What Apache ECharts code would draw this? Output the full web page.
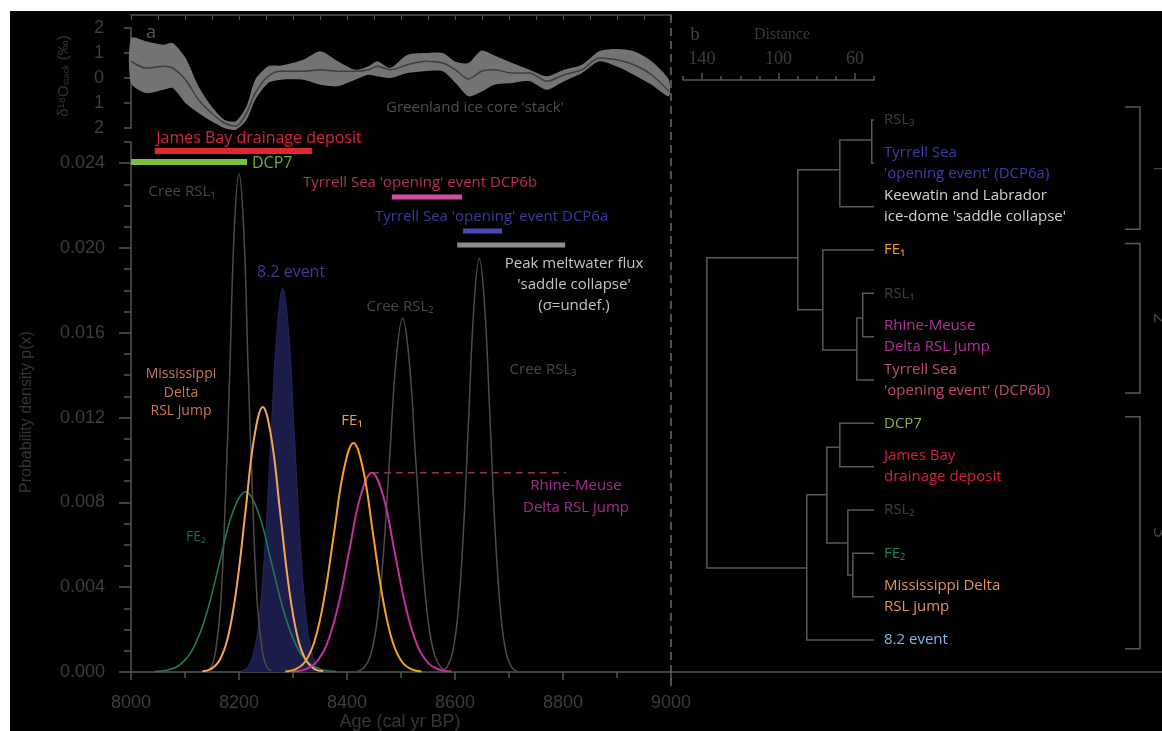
<!DOCTYPE html>
<html>
<head>
<meta charset="utf-8">
<title>Cluster analysis of 8.2 ka event ages</title>
<script src="https://cdn.jsdelivr.net/npm/echarts@6/dist/echarts.min.js"></script>
<style>
  html, body { margin: 0; padding: 0; background: #fff; }
  #chart { width: 1162px; height: 731px; }
</style>
</head>
<body>
<div id="chart"></div>
<script>
"use strict";
/** ---- data ---- **/
// Greenland ice-core stack (d18O anomaly, permil)
var iceAge = [8000, 8028, 8060, 8077, 8101, 8125, 8149, 8173, 8194, 8214, 8230, 8254, 8278, 8319, 8351, 8383, 8415, 8440, 8456, 8480, 8512, 8544, 8577, 8601, 8625, 8649, 8673, 8706, 8738, 8770, 8802, 8835, 8867, 8899, 8931, 8964, 8996];
var iceMean = [0.67, 0.4, 0.47, 0.4, -0.07, -0.87, -1.4, -1.8, -1.93, -1.4, -0.6, 0.07, 0.27, 0.27, 0.33, 0.27, 0.27, 0.33, 0.47, 0.33, 0.53, 0.67, 0.6, 0.33, -0.04, 0.27, 0.33, 0.2, 0.2, -0.13, 0.13, 0.33, 0.8, 0.73, 0.53, 0.13, -0.53];
var iceUpper = [1.6, 1.47, 1.33, 1.4, 0.8, -0.33, -1.13, -1.67, -1.73, -1.13, -0.07, 0.47, 0.5, 0.73, 1.07, 0.67, 0.33, 0.47, 0.67, 0.4, 0.93, 1.0, 1.0, 0.65, 0.6, 1.1, 0.9, 0.6, 0.33, 0.07, 0.33, 0.53, 1.07, 1.16, 1.07, 0.67, -0.07];
var iceLower = [-0.2, -0.6, -0.47, -0.4, -1.0, -1.4, -1.73, -2.0, -2.07, -1.67, -0.87, -0.2, -0.07, -0.07, -0.27, -0.33, -0.07, 0.13, 0.07, 0.0, 0.2, 0.27, 0.27, -0.2, -0.73, -0.55, -0.27, -0.2, -0.13, -0.47, -0.13, 0.2, 0.67, 0.47, 0.13, -0.27, -0.73];

// probability density curves (age cal yr BP, p(x))
var creeRsl1Age = [8140, 8149, 8157, 8166, 8174, 8183, 8191, 8200, 8209, 8217, 8226, 8234, 8243, 8251, 8260];
var creeRsl1P = [0.00005, 0.00026, 0.00103, 0.00318, 0.00763, 0.01425, 0.02074, 0.0235, 0.02074, 0.01425, 0.00763, 0.00318, 0.00103, 0.00026, 0.00005];
var event82Age = [8204, 8215, 8226, 8237, 8248, 8259, 8270, 8281, 8292, 8303, 8314, 8325, 8336, 8347, 8358];
var event82P = [0.00004, 0.0002, 0.0008, 0.00245, 0.00588, 0.01098, 0.01597, 0.0181, 0.01597, 0.01098, 0.00588, 0.00245, 0.0008, 0.0002, 0.00004];
var missAge = [8132, 8148, 8164, 8180, 8196, 8212, 8228, 8244, 8260, 8276, 8292, 8308, 8324, 8340, 8356];
var missP = [0.00003, 0.00014, 0.00055, 0.00169, 0.00406, 0.00758, 0.01103, 0.0125, 0.01103, 0.00758, 0.00406, 0.00169, 0.00055, 0.00014, 0.00003];
var fe2Age = [8044, 8068, 8092, 8116, 8140, 8164, 8188, 8212, 8236, 8260, 8284, 8308, 8332, 8356, 8380];
var fe2P = [0.00002, 0.00009, 0.00037, 0.00115, 0.00276, 0.00516, 0.0075, 0.0085, 0.0075, 0.00516, 0.00276, 0.00115, 0.00037, 0.00009, 0.00002];
var fe1Age = [8286, 8304, 8322, 8340, 8358, 8376, 8394, 8412, 8430, 8448, 8466, 8484, 8502, 8520, 8538];
var fe1P = [0.00002, 0.00012, 0.00047, 0.00146, 0.00351, 0.00655, 0.00953, 0.0108, 0.00953, 0.00655, 0.00351, 0.00146, 0.00047, 0.00012, 0.00002];
var rhineAge = [8299, 8320, 8341, 8362, 8383, 8404, 8425, 8446, 8467, 8488, 8509, 8530, 8551, 8572, 8593];
var rhineP = [0.00002, 0.0001, 0.00041, 0.00127, 0.00305, 0.0057, 0.0083, 0.0094, 0.0083, 0.0057, 0.00305, 0.00127, 0.00041, 0.0001, 0.00002];
var creeRsl2Age = [8419, 8431, 8443, 8455, 8467, 8479, 8491, 8503, 8515, 8527, 8539, 8551, 8563, 8575, 8587];
var creeRsl2P = [0.00004, 0.00019, 0.00073, 0.00226, 0.00542, 0.01013, 0.01474, 0.0167, 0.01474, 0.01013, 0.00542, 0.00226, 0.00073, 0.00019, 0.00004];
var creeRsl3Age = [8575, 8585, 8595, 8605, 8615, 8625, 8635, 8645, 8655, 8665, 8675, 8685, 8695, 8705, 8715];
var creeRsl3P = [0.00004, 0.00022, 0.00086, 0.00264, 0.00633, 0.01183, 0.01721, 0.0195, 0.01721, 0.01183, 0.00633, 0.00264, 0.00086, 0.00022, 0.00004];
var rhineLevelEnd = 8805;

// dated age ranges (bars)
var rangeNames = ["James Bay drainage deposit", "DCP7", "DCP6b", "DCP6a", "Peak meltwater flux"];
var rangeStart = [8044, 8000, 8483, 8615, 8604];
var rangeEnd = [8335, 8215, 8613, 8687, 8804];

// tick values
var ageTicks = [8000, 8200, 8400, 8600, 8800, 9000];
var densityTicks = [0, 0.004, 0.008, 0.012, 0.016, 0.02, 0.024];
var densityMinorTicks = [0.001, 0.002, 0.003, 0.005, 0.006, 0.007, 0.009, 0.01, 0.011, 0.013, 0.014, 0.015, 0.017, 0.018, 0.019, 0.021, 0.022, 0.023, 0.025];
var distanceTicks = [60, 100, 140];
var distanceMinorTicks = [50, 70, 80, 90, 110, 120, 130, 150];

// dendrogram (panel b)
var leafNames = ["RSL\u2083", "Tyrrell Sea\n'opening event' (DCP6a)", "Keewatin and Labrador\nice-dome 'saddle collapse'",
  "FE\u2081", "RSL\u2081", "Rhine-Meuse\nDelta RSL jump", "Tyrrell Sea\n'opening event' (DCP6b)", "DCP7",
  "James Bay\ndrainage deposit", "RSL\u2082", "FE\u2082", "Mississippi Delta\nRSL jump", "8.2 event"];
var leafDist = 50;
var nodeLeft = [0, 13, 4, 15, 3, 14, 7, 10, 9, 19, 22, 18];
var nodeRight = [1, 2, 5, 6, 16, 17, 8, 11, 20, 21, 12, 23];
var nodeDist = [51.2, 67.9, 55.9, 59.0, 76.8, 89.9, 67.9, 61.1, 63.7, 74.7, 85.2, 137.5];
var nodeRow = [0.46, 1.15, 4.57, 5.31, 4.38, 3.18, 7.55, 10.5, 9.76, 8.65, 10.34, 6.0];
var clusterLabels = ["1", "2", "3"];
var clusterFrom = [-0.3, 2.85, 6.85];
var clusterTo = [2.52, 6.3, 12.2];

/** ---- styles / layout ---- **/
var axisGray = "#555";
var labelGray = "#3c3c3c";
var tickFont = "'Liberation Sans', Arial, sans-serif";
var textFont = "'Open Sans', 'DejaVu Sans', sans-serif";
var serifFont = "'Liberation Serif', 'DejaVu Serif', serif";
var rangeRow = [0.02458, 0.02406, 0.0224, 0.0208, 0.02014];
var rangeColor = ["#e0282f", "#7cc040", "#d24ea2", "#4a4ab4", "#8e8e8e"];
var leafColors = ["#3e3e3e", "#3c3cae", "#d2d2d2", "#f0a030", "#3e3e3e", "#b3309a", "#c24a7c",
  "#82b242", "#d6203e", "#3e3e3e", "#1f8352", "#e4925e", "#8cb2ea"];

function zip(a, b) {
  return a.map(function (v, i) { return [v, b[i]]; });
}

function curve(name, ages, vals, color, width, area) {
  var s = {
    name: name, type: "line", xAxisIndex: 1, yAxisIndex: 1,
    data: zip(ages, vals), smooth: 0.4, showSymbol: false, silent: true,
    lineStyle: { color: color, width: width }, z: 4
  };
  if (area) {
    s.areaStyle = { color: area, opacity: 1 };
    s.z = 2;
  }
  return s;
}

function txt(x, y, text, color, size, align, extra) {
  var st = {
    text: text, fill: color, font: size + "px " + textFont,
    textAlign: align || "left", textVerticalAlign: "middle"
  };
  for (var k in (extra || {})) st[k] = extra[k];
  return { type: "text", x: x, y: y, style: st, z: 10 };
}

var chart = echarts.init(document.getElementById("chart"));

var series = [];

/**冰芯带**/
series.push({
  type: "custom", xAxisIndex: 0, yAxisIndex: 0, clip: false, silent: true,
  data: [[8000, 0]],
  renderItem: function (params, api) {
    var pts = [];
    for (var i = 0; i < iceAge.length; i++) pts.push(api.coord([iceAge[i], iceUpper[i]]));
    for (var j = iceAge.length - 1; j >= 0; j--) pts.push(api.coord([iceAge[j], iceLower[j]]));
    return { type: "polygon", shape: { points: pts, smooth: 0.25 }, style: { fill: "#747474" } };
  },
  z: 2
});
series.push({
  type: "line", xAxisIndex: 0, yAxisIndex: 0, data: zip(iceAge, iceMean),
  smooth: 0.3, showSymbol: false, silent: true,
  lineStyle: { color: "#3e3e3e", width: 1.5 }, z: 3
});

/**概率密度曲线**/
series.push(curve("8.2 event", event82Age, event82P, "#26265e", 1, "#1c1c4a"));
series.push(curve("FE2", fe2Age, fe2P, "#1f7a55", 1.6));
series.push(curve("Cree RSL1", creeRsl1Age, creeRsl1P, "#4c4c4c", 1.5));
series.push(curve("Mississippi", missAge, missP, "#f4a65a", 2));
series.push(curve("Cree RSL2", creeRsl2Age, creeRsl2P, "#4c4c4c", 1.5));
series.push(curve("Cree RSL3", creeRsl3Age, creeRsl3P, "#4c4c4c", 1.5));
series.push(curve("Rhine-Meuse", rhineAge, rhineP, "#c2309c", 2));
series.push(curve("FE1", fe1Age, fe1P, "#f6a224", 2));

// Rhine-Meuse peak level
series.push({
  type: "line", xAxisIndex: 1, yAxisIndex: 1, silent: true, showSymbol: false,
  data: [[rhineAge[7], rhineP[7]], [rhineLevelEnd, rhineP[7]]],
  lineStyle: { color: "#9a2a66", width: 1.5, type: [7, 5] }, z: 3
});

/**年代区间**/
rangeNames.forEach(function (n, i) {
  series.push({
    name: n, type: "line", xAxisIndex: 1, yAxisIndex: 1, silent: true, showSymbol: false,
    data: [[rangeStart[i], rangeRow[i]], [rangeEnd[i], rangeRow[i]]],
    lineStyle: { color: rangeColor[i], width: i < 2 ? 6 : 5 }, z: 5
  });
});

/**树状图**/
series.push({
  type: "custom", xAxisIndex: 4, yAxisIndex: 3, clip: false, silent: true,
  data: [[100, 6]],
  renderItem: function (params, api) {
    var nLeaf = leafNames.length;
    function at(i) {
      return i < nLeaf ? [leafDist, i] : [nodeDist[i - nLeaf], nodeRow[i - nLeaf]];
    }
    var kids = [];
    for (var k = 0; k < nodeDist.length; k++) {
      var a = at(nodeLeft[k]), b = at(nodeRight[k]);
      kids.push({
        type: "polyline",
        shape: { points: [api.coord(a), api.coord([nodeDist[k], a[1]]), api.coord([nodeDist[k], b[1]]), api.coord(b)] },
        style: { stroke: "#585858", lineWidth: 1.5, fill: null }
      });
    }
    for (var i = 0; i < nLeaf; i++) {
      var p = api.coord([leafDist, i]);
      kids.push({
        type: "text", x: p[0] + 10, y: p[1],
        style: {
          text: leafNames[i], fill: leafColors[i], font: "15px " + textFont,
          textAlign: "left", textVerticalAlign: "middle", lineHeight: 21
        }
      });
    }
    return { type: "group", children: kids };
  }
});

// cluster brackets
series.push({
  type: "custom", xAxisIndex: 4, yAxisIndex: 3, clip: false, silent: true,
  data: clusterFrom.map(function (v, i) { return [v, clusterTo[i]]; }),
  renderItem: function (params, api) {
    var y1 = api.coord([leafDist, api.value(0)])[1];
    var y2 = api.coord([leafDist, api.value(1)])[1];
    var xl = 1125, xr = 1140;
    return {
      type: "group", children: [
        { type: "polyline", shape: { points: [[xl, y1], [xr, y1], [xr, y2], [xl, y2]] },
          style: { stroke: "#585858", lineWidth: 1.5, fill: null } },
        { type: "text", x: 1159, y: (y1 + y2) / 2, rotation: -Math.PI / 2,
          style: { text: clusterLabels[params.dataIndex], fill: "#444", font: "18px " + textFont,
            textAlign: "center", textVerticalAlign: "middle" } }
      ]
    };
  }
});

var option = {
  backgroundColor: "#fff",
  animation: false,
  grid: [
    { left: 131, top: 28, width: 540, height: 100 },
    { left: 131, top: 142, width: 540, height: 530 },
    { left: 683, top: 120, width: 191, height: 520 },
    { left: 683, top: 80, width: 191, height: 30 }
  ],
  xAxis: [
    {
      gridIndex: 0, type: "value", position: "top", offset: 13, min: 8000, max: 9000, interval: 50,
      axisLine: { onZero: false, lineStyle: { color: axisGray, width: 1.5 } },
      axisTick: { inside: true, length: 5, lineStyle: { color: axisGray } },
      axisLabel: { show: false }, splitLine: { show: false }
    },
    {
      gridIndex: 1, type: "value", min: 8000, max: 9000, interval: 200,
      axisLine: { onZero: false, lineStyle: { color: axisGray, width: 1.5 } },
      axisTick: { length: 8, lineStyle: { color: axisGray, width: 1.5 } },
      minorTick: { show: true, splitNumber: 2, length: 6, lineStyle: { color: axisGray, width: 1.5 } },
      axisLabel: { margin: 22, color: labelGray, fontSize: 18, fontFamily: tickFont,
        customValues: ageTicks, formatter: function (v) { return String(v); } },
      splitLine: { show: false }
    },
    {
      gridIndex: 3, type: "value", position: "top", min: 50, max: 150, inverse: true,
      axisLine: { onZero: false, lineStyle: { color: axisGray, width: 1.5 } },
      axisTick: { length: 7, customValues: distanceTicks, lineStyle: { color: axisGray, width: 1.5 } },
      axisLabel: { margin: 12, color: labelGray, fontSize: 18, fontFamily: serifFont,
        customValues: distanceTicks, formatter: function (v) { return String(v); } },
      splitLine: { show: false }
    },
    {
      gridIndex: 3, type: "value", position: "top", min: 50, max: 150, inverse: true,
      axisLine: { show: false, onZero: false },
      axisTick: { length: 4, customValues: distanceMinorTicks, lineStyle: { color: axisGray, width: 1.5 } },
      axisLabel: { show: false }, splitLine: { show: false }
    },
    {
      gridIndex: 2, type: "value", min: 50, max: 150, inverse: true, show: false
    }
  ],
  yAxis: [
    {
      gridIndex: 0, type: "value", min: -2, max: 2, interval: 1,
      axisLine: { show: true, onZero: false, lineStyle: { color: axisGray, width: 1.5 } },
      axisTick: { show: true, length: 7, lineStyle: { color: axisGray, width: 1.5 } },
      axisLabel: { margin: 27, color: labelGray, fontSize: 18, fontFamily: tickFont,
        formatter: function (v) { return String(Math.abs(v)); } },
      splitLine: { show: false }
    },
    {
      gridIndex: 1, type: "value", min: 0, max: 0.025, position: "left",
      axisLine: { show: true, onZero: false, lineStyle: { color: axisGray, width: 1.5 } },
      axisTick: { show: true, length: 12, customValues: densityTicks, lineStyle: { color: axisGray, width: 1.5 } },
      axisLabel: { margin: 26, color: labelGray, fontSize: 18, fontFamily: tickFont,
        customValues: densityTicks, formatter: function (v) { return v.toFixed(3); } },
      splitLine: { show: false }
    },
    {
      gridIndex: 1, type: "value", min: 0, max: 0.025, position: "left", offset: 0,
      axisLine: { show: false, onZero: false },
      axisTick: { show: true, length: 7, customValues: densityMinorTicks, lineStyle: { color: axisGray, width: 1.5 } },
      axisLabel: { show: false }, splitLine: { show: false }
    },
    {
      gridIndex: 2, type: "value", min: 0, max: 12, inverse: true, show: false
    },
    {
      gridIndex: 3, type: "value", min: 0, max: 1, show: false
    }
  ],
  graphic: [
    { type: "rect", shape: { x: 10, y: 11, width: 1152, height: 720 }, style: { fill: "#000" }, z: -100 },
    { type: "line", shape: { x1: 671, y1: 15, x2: 671, y2: 690 },
      style: { stroke: "#6a6a6a", lineWidth: 1.5, lineDash: [8, 5] }, z: 1 },
    { type: "line", shape: { x1: 671, y1: 672, x2: 1162, y2: 672 },
      style: { stroke: axisGray, lineWidth: 1.5 }, z: 1 },
    // panel a
    txt(146, 33, "a", "#555", 18),
    txt(386, 108, "Greenland ice core 'stack'", "#4e4e4e", 15),
    txt(259, 138, "James Bay drainage deposit", "#d42838", 16, "center"),
    txt(252, 163, "DCP7", "#6fae3a", 16),
    txt(182, 192, "Cree RSL\u2081", "#474747", 15, "center"),
    txt(303, 183, "Tyrrell Sea 'opening' event DCP6b", "#b4305a", 15),
    txt(375, 217, "Tyrrell Sea 'opening' event DCP6a", "#3a3aa0", 15),
    txt(574, 285, "Peak meltwater flux\n'saddle collapse'\n(\u03c3=undef.)", "#c4c4c4", 15, "center", { lineHeight: 21 }),
    txt(257, 272, "8.2 event", "#3b3b92", 16),
    txt(400, 307, "Cree RSL\u2082", "#474747", 15, "center"),
    txt(543, 370, "Cree RSL\u2083", "#474747", 15, "center"),
    txt(181, 393, "Mississippi\nDelta\nRSL jump", "#c8785a", 14, "center", { lineHeight: 18.5 }),
    txt(352, 421, "FE\u2081", "#f0a030", 15, "center"),
    txt(576, 497, "Rhine-Meuse\nDelta RSL jump", "#a62c8c", 15, "center", { lineHeight: 22 }),
    txt(196, 537, "FE\u2082", "#1a6a4a", 14, "center"),
    {
      type: "text", x: 27, y: 412, rotation: Math.PI / 2, z: 10,
      style: { text: "Probability density p(x)", fill: "#353535", font: "16px " + tickFont,
        textAlign: "center", textVerticalAlign: "middle" }
    },
    {
      type: "text", x: 64, y: 76, rotation: Math.PI / 2, z: 10,
      style: {
        text: "{n|\u03b4\u00b9\u2078O}{s|stack}{n| (\u2030)}", textAlign: "center", textVerticalAlign: "middle",
        rich: {
          n: { fill: "#353535", font: "15px " + tickFont },
          s: { fill: "#353535", font: "9px " + tickFont, verticalAlign: "bottom", padding: [6, 0, 0, 0] }
        }
      }
    },
    {
      type: "text", x: 400, y: 722, z: 10,
      style: { text: "Age (cal yr BP)", fill: "#353535", font: "18px " + tickFont,
        textAlign: "center", textVerticalAlign: "middle" }
    },
    // panel b
    { type: "text", x: 695, y: 35, z: 10,
      style: { text: "b", fill: "#444", font: "18px " + serifFont, textAlign: "center", textVerticalAlign: "middle" } },
    { type: "text", x: 782, y: 35, z: 10,
      style: { text: "Distance", fill: "#3a3a3a", font: "16px " + serifFont, textAlign: "center", textVerticalAlign: "middle" } }
  ],
  series: series
};

chart.setOption(option);
</script>
</body>
</html>
